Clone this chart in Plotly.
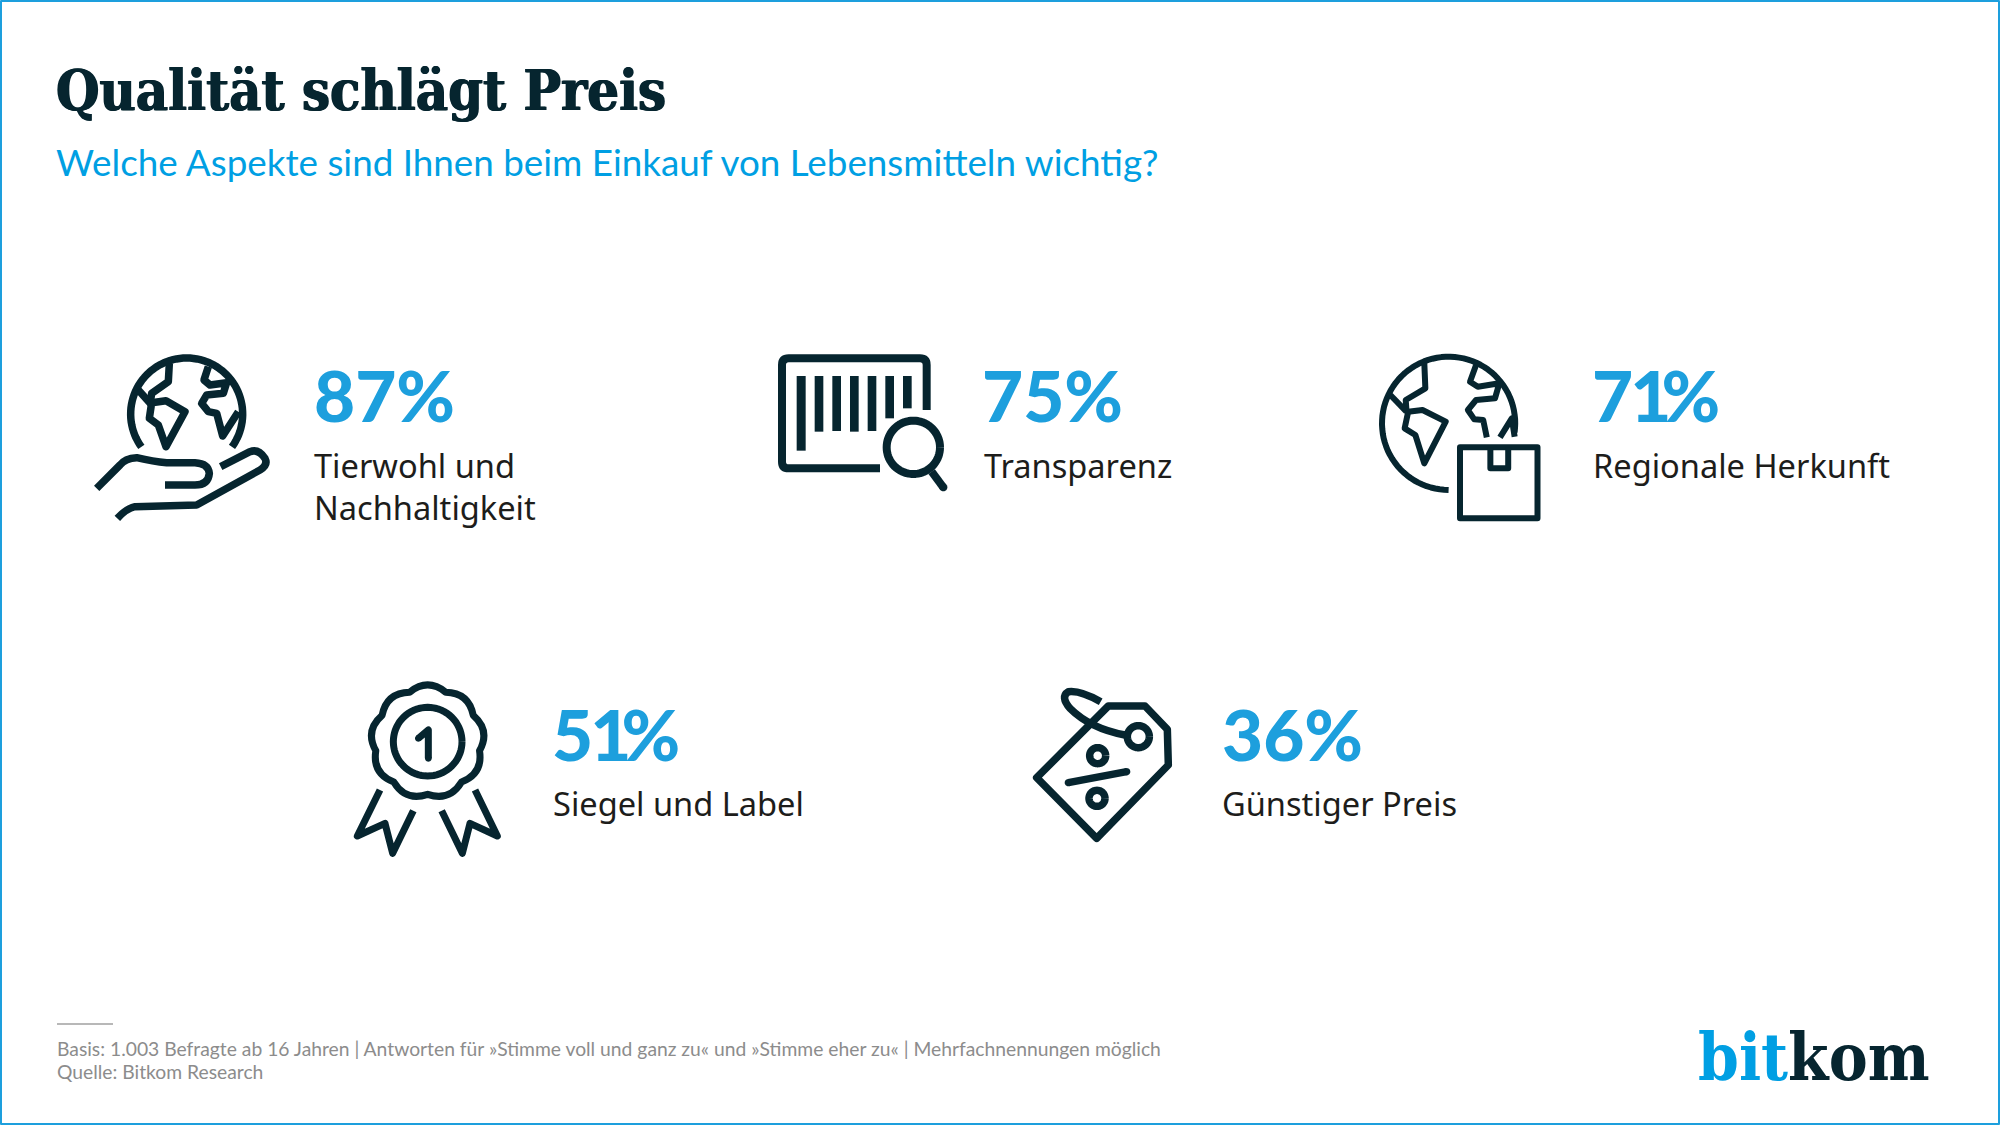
import math
import re
import plotly.graph_objects as go

# ---- content
TITLE = "Qualität schlägt Preis"
SUBTITLE = "Welche Aspekte sind Ihnen beim Einkauf von Lebensmitteln wichtig?"
PERCENTS = [87, 75, 71, 51, 36]
LABELS = ["Tierwohl und<br>Nachhaltigkeit", "Transparenz", "Regionale Herkunft",
          "Siegel und Label", "Günstiger Preis"]
FOOT_1 = "Basis: 1.003 Befragte ab 16 Jahren | Antworten für »Stimme voll und ganz zu« und »Stimme eher zu« | Mehrfachnennungen möglich"
FOOT_2 = "Quelle: Bitkom Research"

# ---- layout
PCT_X = [312, 980, 1590, 550, 1220]
PCT_Y = [394, 394, 394, 733, 733]
LBL_X = [312, 982, 1591, 551, 1220]
LBL_Y = [465, 465, 465, 803, 803]

DARK = "#06252f"
BLUE = "#1d9fdd"
SKY = "#009fe3"
GREY = "#8c8c8c"
INK = "#1d1d1b"


def tf(path, ox, oy, sx=1/3, sy=1/3):
    toks = re.findall(r"[MLQCZ]|-?\d+\.?\d*", path)
    out, i = [], 0
    while i < len(toks):
        t = toks[i]
        if t in "MLQCZ":
            out.append(t)
            i += 1
        else:
            out.append(f"{ox + float(t) * sx:.2f},{oy + float(toks[i + 1]) * sy:.2f}")
            i += 2
    return " ".join(out)


def arc(cx, cy, r, a0, a1, n=72):
    pts = [(cx + r * math.cos(math.radians(a0 + (a1 - a0) * k / n)),
            cy + r * math.sin(math.radians(a0 + (a1 - a0) * k / n))) for k in range(n + 1)]
    return "M" + " L".join(f"{x:.1f} {y:.1f}" for x, y in pts)


def rosette(cx, cy, rv, rc, n=9):
    step = 360 / n
    d = ""
    for k in range(n):
        a_v0 = math.radians(-90 - step / 2 + k * step)
        a_c = math.radians(-90 + k * step)
        a_v1 = math.radians(-90 + step / 2 + k * step)
        if k == 0:
            d += f"M{cx + rv * math.cos(a_v0):.1f} {cy + rv * math.sin(a_v0):.1f} "
        d += (f"Q{cx + rc * math.cos(a_c):.1f} {cy + rc * math.sin(a_c):.1f} "
              f"{cx + rv * math.cos(a_v1):.1f} {cy + rv * math.sin(a_v1):.1f} ")
    return d + "Z"


shapes = []


def stroke(path, w):
    shapes.append(dict(type="path", path=path, xref="x", yref="y",
                       line=dict(color=DARK, width=w), fillcolor="rgba(0,0,0,0)", layer="above"))


def filled(path):
    shapes.append(dict(type="path", path=path, xref="x", yref="y",
                       line=dict(color=DARK, width=0), fillcolor=DARK, layer="above"))


def cap(x, y, r, O):
    filled(tf(arc(x, y, r, 0, 360, 24) + " Z", *O))


# Icon 1: globe in hand
O = (80, 330)
W = 7.5
for p in [
    arc(320, 252, 168, 144, 396),
    "M268 100 L265 155 L215 190 L212 210",
    "M175 180 L218 228",
    "M215 218 L258 212 L315 245 L258 350 L235 285 L208 265 Z",
    "M385 110 L372 150 L390 165 L440 158 L430 190 L380 195 L365 220 L385 245 L410 250 L428 318 L475 245",
    "M50 475 L120 405 Q135 385 170 383 Q220 395 260 398 L345 398 Q385 400 388 430 Q385 465 345 465 L255 465",
    "M422 410 L510 365 Q535 355 555 385 Q565 405 540 420 L350 525 L165 530 Q140 535 112 565",
]:
    stroke(tf(p, *O), W)

# Icon 2: barcode + magnifier
O = (760, 330)
stroke(tf("M360 415 L86 415 Q66 415 66 395 L66 105 Q66 85 86 85 L480 85 Q500 85 500 105 L500 240", *O), 8)
for x0, x1, y1 in [(110, 137, 362), (164, 190, 305), (217, 243, 303), (270, 296, 305),
                   (323, 349, 303), (376, 402, 265), (429, 455, 235)]:
    filled(tf(f"M{x0} 138 L{x1} 138 L{x1} {y1} L{x0} {y1} Z", *O))
stroke(tf(arc(460, 352, 80, 0, 360), *O), 8)
stroke(tf("M515 425 L550 472", *O), 8)
cap(550, 472, 12, O)

# Icon 3: globe + parcel
O = (1360, 330)
sx, sy = 1 / 2.8, 1 / 3
stroke(tf(arc(1448.6, 423.3, 66.6, 90, 368), 0, 0, 1, 1), 6)
for p in [
    "M180 98 L183 175 L128 210 L130 240",
    "M85 195 L130 245",
    "M135 245 L175 240 L240 275 L180 400 L155 315 L125 295 Z",
    "M325 105 L308 155 L330 170 L390 160 L378 205 L325 210 L302 240 L320 268 L345 270 L355 322",
    "M392 322 L425 265 L433 320",
    "M280 352 L497 352 L497 565 L280 565 Z",
    "M365 352 L365 415 L415 415 L415 352",
]:
    stroke(tf(p, O[0], O[1], sx, sy), 6)

# Icon 4: rosette
O = (340, 670)
stroke(tf(rosette(263, 215, 158, 192), *O), 7)
stroke(tf(arc(263, 215, 103, 0, 360), *O), 7)
for p in ["M235 205 L265 180 L265 265",
          "M120 360 L52 498 L135 460 L158 550 L220 422",
          "M405 360 L472 498 L390 460 L367 550 L305 422"]:
    stroke(tf(p, *O), 7)
cap(235, 205, 10, O)
cap(265, 265, 10, O)

# Icon 5: price tag
O = (1010, 670)
for p in [
    "M80 323 L295 108 L405 108 L472 178 L475 285 L260 505 Z",
    arc(385, 200, 33, 0, 360),
    "M272 95 Q210 60 175 65 Q150 80 180 115 Q240 175 345 195",
    arc(263, 257, 24, 0, 360),
    arc(261, 385, 24, 0, 360),
    "M175 338 L350 305",
]:
    stroke(tf(p, *O), 7.5)
cap(175, 338, 11, O)
cap(350, 305, 11, O)

# Frame and footer rule
shapes.append(dict(type="rect", x0=1, y0=1, x1=1999, y1=1124, xref="x", yref="y",
                   line=dict(color=BLUE, width=2), fillcolor="rgba(0,0,0,0)"))
shapes.append(dict(type="line", x0=57, x1=113, y0=1024, y1=1024, xref="x", yref="y",
                   line=dict(color="#a0a0a0", width=1.5)))


def note(x, y, text, family, size, color, weight=None, shadow=None):
    font = dict(family=family, size=size, color=color, weight=weight)
    if shadow:
        font["shadow"] = shadow
    return dict(x=x, y=y, xref="x", yref="y", text=text, showarrow=False, xanchor="left",
                yanchor="middle", align="left", font=font)


def pct_markup(v):
    # The reference face sets "1" narrow; tighten around it in the tabular face used here.
    s = str(v)
    if "1" not in s:
        return s + "%"
    first, second = s
    return (f'<span style="letter-spacing:-3px">{first}</span>'
            f'<span style="letter-spacing:-10px">{second}</span>%')


FAT = f"0.7px 0 0 {DARK}, -0.7px 0 0 {DARK}"
notes = [
    note(54, 90, TITLE, "DejaVu Serif Condensed", 55.5, DARK, 700, FAT),
    note(54, 162, SUBTITLE, "Lato", 36.8, SKY),
    note(55, 1048, FOOT_1, "Lato", 19.3, GREY),
    note(55, 1071, FOOT_2, "Lato", 19.3, GREY),
    note(1696, 1057, f'<span style="color:{SKY}">bit</span>kom', "DejaVu Serif Condensed", 65, DARK, 700),
]
for v, lab, px, py, lx, ly in zip(PERCENTS, LABELS, PCT_X, PCT_Y, LBL_X, LBL_Y):
    notes.append(note(px, py, pct_markup(v), "Lato", 71, BLUE, 900))
    notes.append(note(lx, ly + (21 if "<br>" in lab else 0), lab, "Noto Sans", 32.6, INK))

fig = go.Figure(go.Scatter(x=[0, 2000], y=[0, 1125], mode="markers",
                           marker=dict(opacity=0), hoverinfo="skip", showlegend=False))
fig.update_layout(
    width=2000, height=1125, margin=dict(l=0, r=0, t=0, b=0),
    paper_bgcolor="white", plot_bgcolor="white", showlegend=False,
    xaxis=dict(range=[0, 2000], visible=False, fixedrange=True),
    yaxis=dict(range=[1125, 0], visible=False, fixedrange=True),
    shapes=shapes, annotations=notes,
)
POST = """
document.body.style.margin = '0';
var st = document.createElement('style');
st.textContent = '.shapelayer path{stroke-linejoin:round !important}';
document.head.appendChild(st);
"""
fig.write_html("out.html", config={"displayModeBar": False}, post_script=POST)
